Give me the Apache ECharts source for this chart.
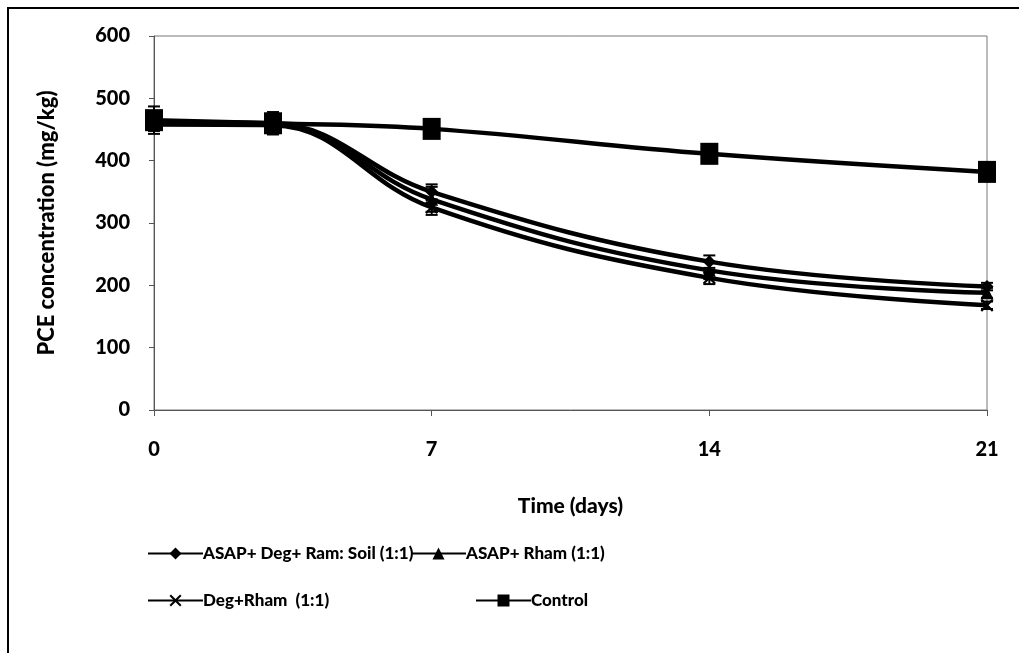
<!DOCTYPE html>
<html>
<head>
<meta charset="utf-8">
<script src="https://cdn.jsdelivr.net/npm/echarts@6/dist/echarts.min.js"></script>
<style>
  html, body { margin: 0; padding: 0; background: #fff; }
  #chart { width: 1019px; height: 653px; }
</style>
</head>
<body>
<div id="chart"></div>
<script>
// Sampling days
const days = [0, 3, 7, 14, 21];

// PCE concentration (mg/kg) per treatment
const asapDegRam = [462, 460, 350, 238, 198];
const asapRham   = [460, 458, 338, 224, 188];
const degRham    = [458, 457, 325, 212, 168];
const control    = [465, 460, 451, 411, 382];

// Standard deviations for the error bars
const errAsapDegRam = [10, 8, 12, 10, 6];
const errAsapRham   = [12, 10, 20, 14, 8];
const errDegRham    = [10, 8, 12, 10, 6];
const errControl    = [22, 18, 14, 15, 12];

const seriesNames = [
  'ASAP+ Deg+ Ram: Soil (1:1)',
  'ASAP+ Rham (1:1)',
  'Deg+Rham  (1:1)',
  'Control'
];

const FONT = 'Lato';
const WEIGHT = 900;
const xMark = 'path://M0,1.2L1.2,0L5,3.8L8.8,0L10,1.2L6.2,5L10,8.8L8.8,10L5,6.2L1.2,10L0,8.8L3.8,5Z';

function pairs(vals) { return days.map((d, i) => [d, vals[i]]); }
function errData(vals, errs) { return days.map((d, i) => [d, vals[i] - errs[i], vals[i] + errs[i]]); }

function errorSeries(vals, errs) {
  return {
    type: 'custom',
    silent: true,
    z: 3,
    data: errData(vals, errs),
    renderItem: function (params, api) {
      const lo = api.coord([api.value(0), api.value(1)]);
      const hi = api.coord([api.value(0), api.value(2)]);
      const half = 6;
      const style = { stroke: '#000', lineWidth: 2 };
      return {
        type: 'group',
        children: [
          { type: 'line', shape: { x1: lo[0], y1: lo[1], x2: hi[0], y2: hi[1] }, style: style },
          { type: 'line', shape: { x1: lo[0] - half, y1: lo[1], x2: lo[0] + half, y2: lo[1] }, style: style },
          { type: 'line', shape: { x1: hi[0] - half, y1: hi[1], x2: hi[0] + half, y2: hi[1] }, style: style }
        ]
      };
    }
  };
}

function lineSeries(name, vals, symbol, size) {
  return {
    name: name,
    type: 'line',
    smooth: 0.4,
    data: pairs(vals),
    symbol: symbol,
    symbolSize: size,
    showAllSymbol: true,
    z: 4,
    lineStyle: { color: '#000', width: 4.5 },
    itemStyle: { color: '#000', borderColor: '#000', borderWidth: 0 }
  };
}

const legendCommon = {
  itemWidth: 55,
  itemHeight: 15,
  itemGap: 0,
  textStyle: { fontFamily: FONT, fontWeight: WEIGHT, fontSize: 17, color: '#000', padding: [0, 0, 0, -5] },
  selectedMode: false
};

const option = {
  animation: false,
  backgroundColor: '#fff',
  textStyle: { fontFamily: FONT },
  graphic: [
    {
      type: 'rect',
      shape: { x: 8, y: 8, width: 1200, height: 900 },
      style: { fill: 'none', stroke: '#000', lineWidth: 2 },
      silent: true
    }
  ],
  grid: {
    left: 154, right: 32, top: 36, bottom: 243,
    show: true, borderColor: '#777', borderWidth: 1
  },
  xAxis: {
    type: 'value',
    min: 0, max: 21, interval: 7,
    name: 'Time (days)',
    nameLocation: 'middle',
    nameGap: 86,
    nameTextStyle: { fontFamily: FONT, fontWeight: WEIGHT, fontSize: 21, color: '#000' },
    axisLine: { lineStyle: { color: '#555', width: 1 } },
    axisTick: { show: true, length: 6, lineStyle: { color: '#555' } },
    axisLabel: { margin: 30, fontFamily: FONT, fontWeight: WEIGHT, fontSize: 20, color: '#000' },
    splitLine: { show: false }
  },
  yAxis: {
    type: 'value',
    min: 0, max: 600, interval: 100,
    name: 'PCE concentration (mg/kg)',
    nameLocation: 'middle',
    nameGap: 96,
    nameTextStyle: { fontFamily: FONT, fontWeight: WEIGHT, fontSize: 22, color: '#000' },
    axisLine: { show: true, lineStyle: { color: '#555', width: 1 } },
    axisTick: { show: true, length: 5, lineStyle: { color: '#555' } },
    axisLabel: { margin: 24, fontFamily: FONT, fontWeight: WEIGHT, fontSize: 20, color: '#000' },
    splitLine: { show: false }
  },
  legend: [
    Object.assign({ data: [seriesNames[0]], left: 142, top: 540 }, legendCommon),
    Object.assign({ data: [seriesNames[1]], left: 405, top: 540 }, legendCommon),
    Object.assign({ data: [seriesNames[2]], left: 142, top: 587 }, legendCommon),
    Object.assign({ data: [seriesNames[3]], left: 470, top: 587 }, legendCommon)
  ],
  series: [
    lineSeries(seriesNames[0], asapDegRam, 'diamond', 13),
    lineSeries(seriesNames[1], asapRham, 'triangle', 13),
    lineSeries(seriesNames[2], degRham, xMark, 13),
    lineSeries(seriesNames[3], control, 'rect', [18, 22]),
    errorSeries(asapDegRam, errAsapDegRam),
    errorSeries(asapRham, errAsapRham),
    errorSeries(degRham, errDegRham),
    errorSeries(control, errControl)
  ]
};

const chart = echarts.init(document.getElementById('chart'), null, { renderer: 'canvas' });
chart.setOption(option);
</script>
</body>
</html>
